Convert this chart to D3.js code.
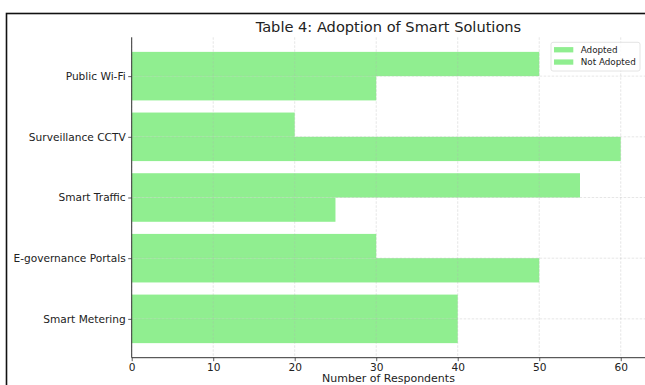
<!DOCTYPE html>
<html>
<head>
<meta charset="utf-8">
<script src="https://cdn.jsdelivr.net/npm/d3@7"></script>
<style>
  html, body { margin: 0; padding: 0; background: #fff; }
  svg { display: block; font-family: "DejaVu Sans", sans-serif; }
</style>
</head>
<body>
<svg id="chart" width="645" height="385"></svg>
<script>
// Survey categories, listed bottom to top
const categories = ["Smart Metering", "E-governance Portals", "Smart Traffic", "Surveillance CCTV", "Public Wi-Fi"];
const adopted    = [40, 30, 55, 20, 50];
const notAdopted = [40, 50, 25, 60, 30];
const xTicks = [0, 10, 20, 30, 40, 50, 60];
const seriesNames = ["Adopted", "Not Adopted"];
const barColor = "#90ee90";

const svg = d3.select("#chart");

// Outer frame
svg.append("rect")
  .attr("x", 6.5).attr("y", 13.5)
  .attr("width", 700).attr("height", 400)
  .attr("fill", "none").attr("stroke", "#111").attr("stroke-width", 1.6);

const plot = { left: 131.7, right: 645.2, top: 37.3, bottom: 357.7 };
const barH = 0.4;

const x = d3.scaleLinear().domain([0, 63]).range([plot.left, plot.right]);
const y = d3.scaleLinear().domain([-0.64, 4.64]).range([plot.bottom, plot.top]);

// Bars: adopted sits above the category line, not adopted below it
const rows = categories.map((c, i) => ({ c, i, a: adopted[i], n: notAdopted[i] }));
const g = svg.append("g");
g.selectAll("rect.adopted").data(rows).join("rect")
  .attr("class", "adopted")
  .attr("x", x(0))
  .attr("y", d => y(d.i + barH))
  .attr("width", d => x(d.a) - x(0))
  .attr("height", d => y(d.i) - y(d.i + barH))
  .attr("fill", barColor);
g.selectAll("rect.notadopted").data(rows).join("rect")
  .attr("class", "notadopted")
  .attr("x", x(0))
  .attr("y", d => y(d.i))
  .attr("width", d => x(d.n) - x(0))
  .attr("height", d => y(d.i - barH) - y(d.i))
  .attr("fill", barColor);

// Dashed grid over the bars
const grid = svg.append("g").attr("stroke", "#b0b0b0").attr("stroke-opacity", 0.4)
  .attr("stroke-width", 0.8).attr("stroke-dasharray", "2.5,1.5");
grid.selectAll("line.v").data(xTicks).join("line")
  .attr("x1", d => x(d)).attr("x2", d => x(d))
  .attr("y1", plot.top).attr("y2", plot.bottom);
grid.selectAll("line.h").data(categories.map((c, i) => i)).join("line")
  .attr("x1", plot.left).attr("x2", plot.right)
  .attr("y1", d => y(d)).attr("y2", d => y(d));

// Axes
const xAxis = d3.axisBottom(x).tickValues(xTicks).tickSize(3.5).tickPadding(2.5).tickFormat(d3.format("d"));
const yAxis = d3.axisLeft(y).tickValues(d3.range(categories.length)).tickSize(3.5).tickPadding(2.5)
  .tickFormat(i => categories[i]);

const gx = svg.append("g").attr("transform", `translate(0,${plot.bottom})`).call(xAxis);
const gy = svg.append("g").attr("transform", `translate(${plot.left},0)`).call(yAxis);
[gx, gy].forEach(a => {
  a.select(".domain").attr("stroke", "#333").attr("stroke-width", 1);
  a.selectAll(".tick line").attr("stroke", "#333").attr("stroke-width", 0.8);
  a.selectAll(".tick text").attr("fill", "#222").style("font-size", "10.6px")
    .style("font-family", "DejaVu Sans, sans-serif");
});
gx.select(".domain").attr("d", `M${plot.left},0H${plot.right}`);
gy.select(".domain").attr("d", `M0,${plot.top}V${plot.bottom}`);

// Title and axis label
svg.append("text")
  .attr("x", (plot.left + plot.right) / 2).attr("y", 32)
  .attr("text-anchor", "middle").attr("fill", "#222")
  .style("font-size", "14.6px").text("Table 4: Adoption of Smart Solutions");
svg.append("text")
  .attr("x", (plot.left + plot.right) / 2).attr("y", 382)
  .attr("text-anchor", "middle").attr("fill", "#222")
  .style("font-size", "11px").text("Number of Respondents");

// Legend
const lg = svg.append("g").attr("transform", "translate(551,42.3)");
lg.append("rect").attr("width", 89).attr("height", 28.7).attr("rx", 2)
  .attr("fill", "#fff").attr("fill-opacity", 0.8).attr("stroke", "#ddd").attr("stroke-width", 0.8);
seriesNames.forEach((name, k) => {
  lg.append("rect").attr("x", 3).attr("y", 4.8 + k * 12.3).attr("width", 19.3).attr("height", 5.3)
    .attr("fill", barColor);
  lg.append("text").attr("x", 29.7).attr("y", 10.8 + k * 12.3).attr("fill", "#222")
    .style("font-size", "8.8px").text(name);
});
</script>
</body>
</html>
